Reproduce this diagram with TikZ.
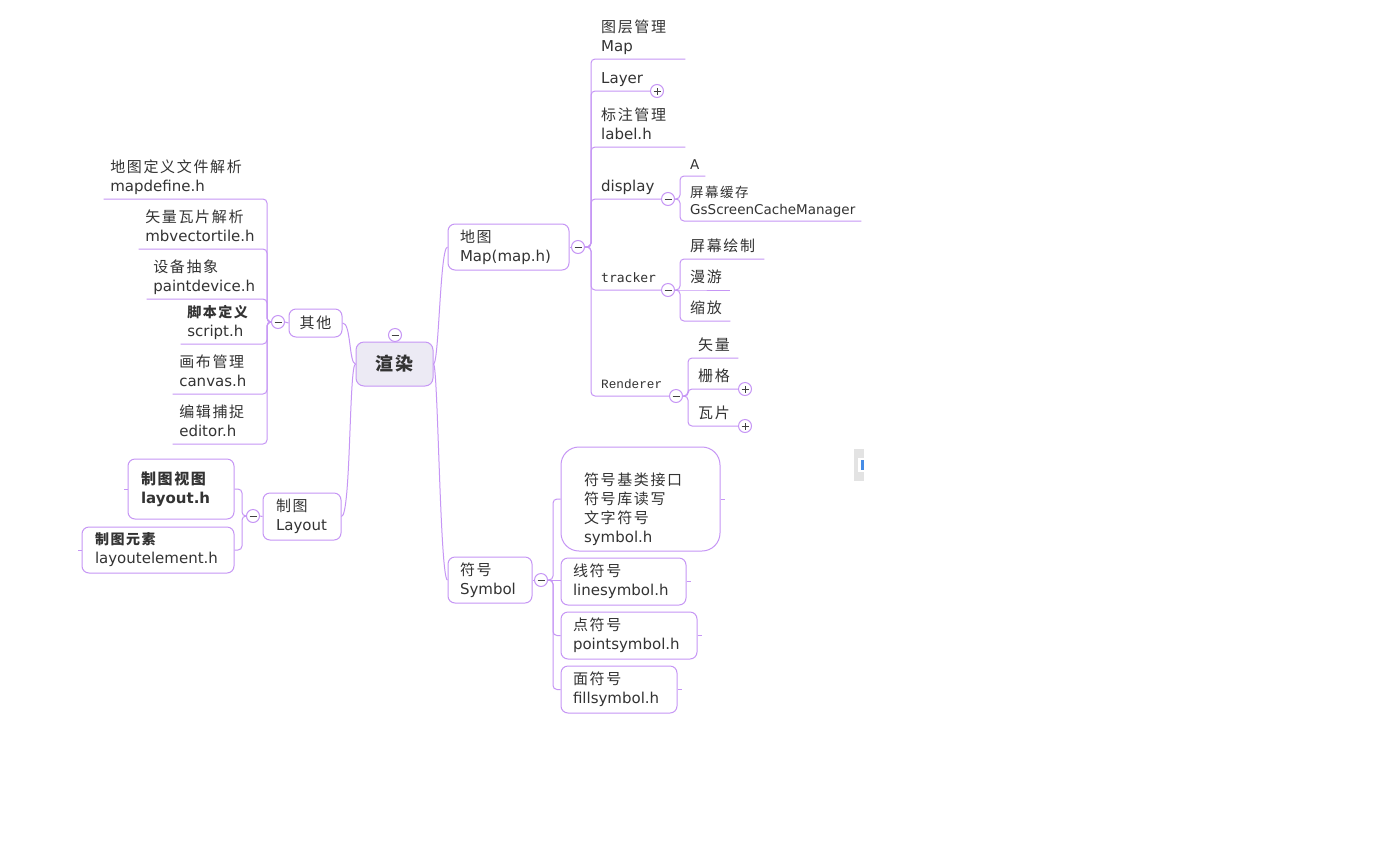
\documentclass[tikz,border=0pt]{standalone}
\usepackage{fontspec}
\setmainfont{DejaVu Sans}
\newfontfamily\cjk[LetterSpace=11]{Noto Sans CJK SC}
\newfontfamily\monoA{Liberation Mono}
\newfontfamily\monoB{DejaVu Sans Mono}
\newcommand\cj[1]{{\cjk #1}}
\newcommand\cjb[1]{{\cjk\bfseries #1}}
\newcommand\lstrut{\rule[-4pt]{0pt}{4pt}}
\definecolor{ln}{RGB}{198,150,245}
\definecolor{tx}{RGB}{51,51,51}
\definecolor{rootfill}{RGB}{236,234,244}
\definecolor{sbblue}{RGB}{70,140,230}
\usetikzlibrary{calc}
\begin{document}
\begin{tikzpicture}[x=1pt,y=-1pt,
  conn/.style={draw=ln, line width=1.0, rounded corners=4},
  txt/.style={text=tx, font=\fontsize{15}{19}\selectfont},
  bx/.style={txt, draw=ln, line width=1.0, fill=white, rounded corners=7, align=left, inner ysep=0},
  ur/.style={txt, anchor=south west, inner xsep=10, inner ysep=3.5, align=left, execute at end node=\lstrut},
  ul/.style={txt, anchor=south east, inner xsep=6.5, inner ysep=3.5, align=left, execute at end node=\lstrut},
  btn/.style={circle, draw=ln, line width=1.0, fill=white, minimum size=13, inner sep=0},
  minus/.style={btn, path picture={\draw[black!75, line width=0.9] ([xshift=-3.5pt]path picture bounding box.center) -- ([xshift=3.5pt]path picture bounding box.center);}},
  plus/.style={btn, path picture={\draw[black!75, line width=0.9] ([xshift=-3.5pt]path picture bounding box.center) -- ([xshift=3.5pt]path picture bounding box.center) ([yshift=-3.5pt]path picture bounding box.center) -- ([yshift=3.5pt]path picture bounding box.center);}}
]
\useasboundingbox[fill=white] (0,0) rectangle (1395,844);

% root
\node[draw=ln, line width=1.0, fill=rootfill, rounded corners=8, minimum width=77, minimum height=44, text=tx, font=\fontsize{18}{20}\selectfont] (root) at (394.5,364) {\cjb{渲染}};
\node[minus] (rootc) at (395,335) {};

% ---------- left: 其他
\node[bx, minimum width=53, minimum height=28, inner xsep=0, align=center] (other) at (315.5,323) {\cj{其他}};
\node[minus] (ocirc) at (278,322) {};
\node[ul, text width=150] (mapdef) at (267,199) {\cj{地图定义文件解析}\\mapdefine.h};
\node[ul, text width=115] (mbvec) at (267,249) {\cj{矢量瓦片解析}\\mbvectortile.h};
\node[ul, text width=107] (paint) at (267,299) {\cj{设备抽象}\\paintdevice.h};
\node[ul, text width=73] (script) at (267,344) {{\cjk\bfseries\fontsize{14}{19}\selectfont 脚本定义}\\script.h};
\node[ul, text width=81] (canvas) at (267,394) {\cj{画布管理}\\canvas.h};
\node[ul, text width=81] (editor) at (267,444) {\cj{编辑捕捉}\\editor.h};
\draw[conn] (other.west) -- (ocirc.east);
\foreach \n in {mapdef,mbvec,paint,script,canvas,editor}
  \draw[conn] (ocirc.west) -| (\n.south east) -- (\n.south west);

% ---------- left: 制图 Layout
\node[bx, minimum height=47, inner xsep=13, text width=52] (layoutn) at (302,516.5) {\cj{制图}\\Layout};
\node[minus] (lcirc) at (253,516) {};
\coordinate (lspine) at (242,516);
\node[bx, minimum height=60, inner xsep=13, text width=80] (layouth) at (181,489) {\cjb{制图视图}\\\textbf{layout.h}};
\node[bx, minimum height=46, inner xsep=13, text width=126] (layoutel) at (158,550) {{\cjk\bfseries\fontsize{14}{19}\selectfont 制图元素}\\layoutelement.h};
\draw[conn] (layoutn.west) -- (lcirc.east);
\draw[conn] (lcirc.west) -- (lspine) |- (layouth.east);
\draw[conn] (lcirc.west) -- (lspine) |- (layoutel.east);
\draw[conn] (layouth.west) -- ++(-4,0);
\draw[conn] (layoutel.west) -- ++(-4,0);

% root connectors
\draw[conn] (root.west) .. controls (349,364) and (351,322) .. (other.east);
\draw[conn] (root.west) .. controls (349,364) and (351,516) .. (layoutn.east);

% ---------- right: 地图
\node[bx, minimum height=46, inner xsep=12, text width=97] (mapnode) at (508.5,247) {\cj{地图}\\Map(map.h)};
\node[minus] (mapcirc) at (578,247) {};
\draw[conn] (root.east) .. controls (439,364) and (440,247) .. (mapnode.west);
\draw[conn] (mapnode.east) -- (mapcirc.west);

\node[ur, text width=74] (mapn) at (591,59) {\cj{图层管理}\\Map};
\node[ur, text width=39] (layer) at (591,91) {Layer};
\node[plus] (layerc) at (657,91) {};
\node[ur, text width=74] (label) at (591,147) {\cj{标注管理}\\label.h};
\node[ur, text width=50] (disp) at (591,199) {display};
\node[minus] (dispc) at (668,199) {};
\node[ur, text width=50, font=\monoB\fontsize{13}{19}\selectfont] (track) at (591,290) {tracker};
\node[minus] (trackc) at (668,290) {};
\node[ur, text width=58, font=\monoA\fontsize{12.7}{19}\selectfont] (rend) at (591,396) {Renderer};
\node[minus] (rendc) at (676,396) {};
\foreach \n in {mapn,layer,label,disp,track,rend}
  \draw[conn] (mapcirc.east) -| (\n.south west) -- (\n.south east);

% display children
\node[ur, text width=5, inner ysep=2, font=\fontsize{13.5}{17}\selectfont] (nA) at (680,176) {A};
\node[ur, text width=161, inner ysep=2.5, font=\fontsize{13.5}{17}\selectfont] (ncache) at (680,221) {\cj{屏幕缓存}\\GsScreenCacheManager};
\foreach \n in {nA,ncache}
  \draw[conn] (dispc.east) -| (\n.south west) -- (\n.south east);

% tracker children
\node[ur, text width=64] (tdraw) at (680,259) {\cj{屏幕绘制}};
\node[ur, text width=30] (tpan) at (680,290) {\cj{漫游}};
\node[ur, text width=30] (tzoom) at (680,321) {\cj{缩放}};
\draw[conn] (trackc.east) -| (tdraw.south west) -- (tdraw.south east);
\draw[conn] (trackc.east) -- (tpan.south west) -- (tpan.south east);
\draw[conn] (trackc.east) -| (tzoom.south west) -- (tzoom.south east);

% renderer children
\node[ur, text width=30] (rvec) at (688,358) {\cj{矢量}};
\node[ur, text width=30] (rras) at (688,389) {\cj{栅格}};
\node[plus] (rrasc) at (745,389) {};
\node[ur, text width=30] (rtile) at (688,426) {\cj{瓦片}};
\node[plus] (rtilec) at (745,426) {};
\foreach \n in {rvec,rras,rtile}
  \draw[conn] (rendc.east) -| (\n.south west) -- (\n.south east);

% ---------- right: 符号 Symbol
\node[bx, minimum height=46, inner xsep=12, text width=60] (symnode) at (490,580) {\cj{符号}\\Symbol};
\node[minus] (symcirc) at (541,580) {};
\coordinate (sspine) at (553,580);
\draw[conn] (root.east) .. controls (438,364) and (440,580) .. (symnode.west);
\draw[conn] (symnode.east) -- (symcirc.west);

\node[bx, rounded corners=18, minimum height=104, inner xsep=23, text width=113] (symh) at (640.5,499) {\rule{0pt}{33pt}\cj{符号基类接口}\\\cj{符号库读写}\\\cj{文字符号}\\symbol.h};
\node[bx, minimum height=47, inner xsep=12, text width=101] (linesym) at (623.5,581.5) {\cj{线符号}\\linesymbol.h};
\node[bx, minimum height=47, inner xsep=12, text width=112] (pointsym) at (629,635.5) {\cj{点符号}\\pointsymbol.h};
\node[bx, minimum height=47, inner xsep=12, text width=92] (fillsym) at (619,689.5) {\cj{面符号}\\fillsymbol.h};
\draw[conn] (symcirc.east) -- (sspine) |- (symh.west);
\draw[conn] (symcirc.east) -- (symcirc.east -| linesym.west);
\draw[conn] (symcirc.east) -- (sspine) |- (pointsym.west);
\draw[conn] (symcirc.east) -- (sspine) |- (fillsym.west);
\foreach \n in {symh,linesym,pointsym,fillsym}
  \draw[conn] (\n.east) -- ++(4,0);

% scrollbar fragment
\fill[gray!22] (854,449) rectangle (864,481);
\fill[white] (857.5,458) rectangle (864,472);
\fill[sbblue] (860.5,460) rectangle (864,470);
\end{tikzpicture}
\end{document}
